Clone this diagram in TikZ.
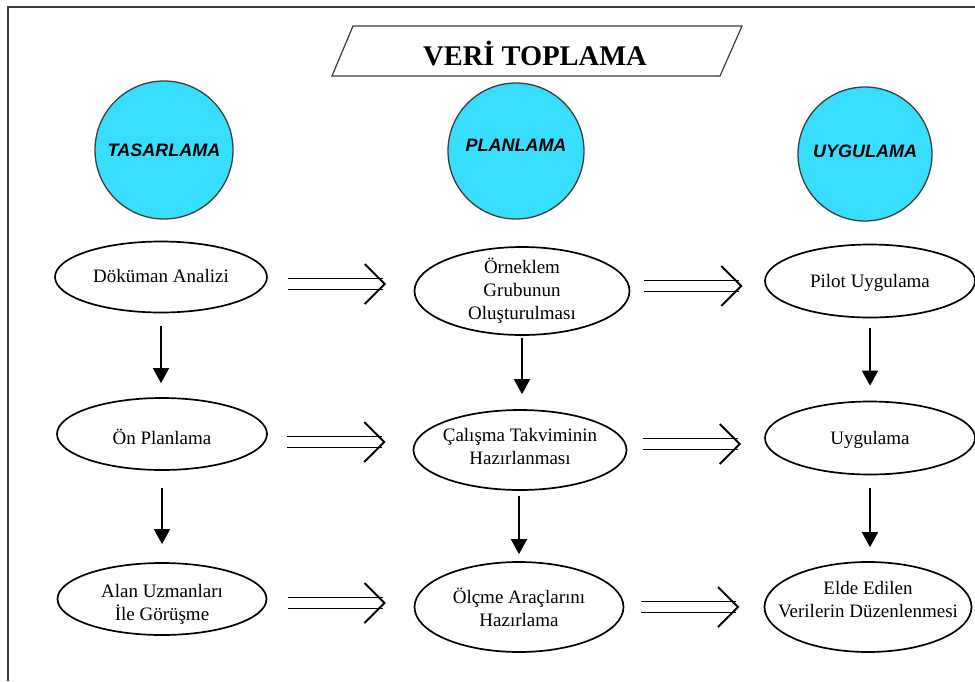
\documentclass[tikz,border=0pt]{standalone}
\usepackage{fontspec}
\setmainfont{Liberation Serif}
\newfontfamily\phasefont{Liberation Sans}
\usetikzlibrary{shapes.geometric,arrows.meta,calc}
\definecolor{phasecyan}{HTML}{38DEFD}
\definecolor{framegray}{HTML}{3C3C3C}
\newcommand{\ovtext}[2][4.75pt]{\makebox[0pt]{\smash{\raisebox{-#1}{\begin{tabular}{@{}c@{}}#2\end{tabular}}}}}
\tikzset{
  phase/.style={circle,draw=framegray,line width=1.3pt,fill=phasecyan,minimum size=#1,inner sep=0pt,
    font=\phasefont\bfseries\itshape\fontsize{18}{20}\selectfont},
  oval/.style 2 args={ellipse,draw,line width=1.7pt,minimum width=#1,minimum height=#2,inner sep=0pt,
    font=\fontsize{19}{23}\selectfont},
  down/.style={line width=1.6pt,-{Triangle[length=15pt,width=16pt]},shorten <=13pt,shorten >=14pt},
  dblarrow/.pic={
    \draw[line width=1.9pt] (-53,-5.5) -- (42,-5.5) (-53,5.5) -- (42,5.5);
    \draw[line width=1.9pt,line join=miter] (24,-20) -- (44,0) -- (24,20);
  }
}
\begin{document}
\begin{tikzpicture}[x=1pt,y=-1pt]
    \useasboundingbox (0,0) rectangle (975,681);
    \draw[framegray,line width=1.5pt] (8,681) -- (8,7) -- (975,7);
    % title
    \draw[framegray,line width=1.2pt] (353,26) -- (742,26) -- (720,76) -- (332,76) -- cycle;
    \node[font=\bfseries\fontsize{28.5}{30}\selectfont,anchor=base] (ttl) at (535,65) {VERİ TOPLAMA};
    % phases
    \node[phase=138pt] (ptas) at (164,150) {TASARLAMA};
    \node[phase=136pt] (ppla) at (516,151) {\smash{PLANLAMA}};
    \node[phase=134pt] (puyg) at (865,154) {\smash{\raisebox{-3pt}{UYGULAMA}}};
    % steps
    \node[oval={212pt}{71pt}] (dok) at (161,277) {\ovtext{Döküman Analizi}};
    \node[oval={210pt}{72pt}] (onp) at (162,434) {\ovtext[10pt]{Ön Planlama}};
    \node[oval={209pt}{72pt}] (alan) at (162,599) {\ovtext[10pt]{Alan Uzmanları\\İle Görüşme}};
    \node[oval={215pt}{88pt}] (orn) at (522,291) {\ovtext{Örneklem\\Grubunun\\Oluşturulması}};
    \node[oval={213pt}{80pt}] (cal) at (520,450) {\ovtext[3pt]{Çalışma Takviminin\\Hazırlanması}};
    \node[oval={209pt}{90pt}] (olc) at (519,607) {\ovtext[8pt]{Ölçme Araçlarını\\Hazırlama}};
    \node[oval={210pt}{73pt}] (pil) at (870,281) {\ovtext[6pt]{Pilot Uygulama}};
    \node[oval={210pt}{73pt}] (uygu) at (870,438) {\ovtext[6pt]{Uygulama}};
    \node[oval={207pt}{90pt}] (elde) at (868,607) {\ovtext[-1.5pt]{Elde Edilen\\Verilerin Düzenlenmesi}};
    % down arrows
    \draw[down] (dok.south) -- (dok.south |- onp.north);
    \draw[down,shorten <=17pt,shorten >=18pt] (onp.south) -- (onp.south |- alan.north);
    \draw[down,shorten <=2pt,shorten >=15pt] (orn.south) -- (orn.south |- cal.north);
    \draw[down,shorten <=5pt,shorten >=7pt] (olc.north |- cal.south) -- (olc.north);
    \draw[down,shorten <=10pt,shorten >=15pt] (pil.south) -- (pil.south |- uygu.north);
    \draw[down] (uygu.south) -- (uygu.south |- elde.north);
    % double arrows
    \pic at ($(dok.east)!.5!(orn.west)$) {dblarrow};
    \pic at ($(onp.east)!.5!(cal.west)$) {dblarrow};
    \pic at ($(alan.east)!.5!(olc.west)$) {dblarrow};
    \pic at ($(orn.east)!.5!(pil.west)$) {dblarrow};
    \pic at ($(cal.east)!.5!(uygu.west)$) {dblarrow};
    \pic at ($(olc.east)!.5!(elde.west)$) {dblarrow};
\end{tikzpicture}
\end{document}
